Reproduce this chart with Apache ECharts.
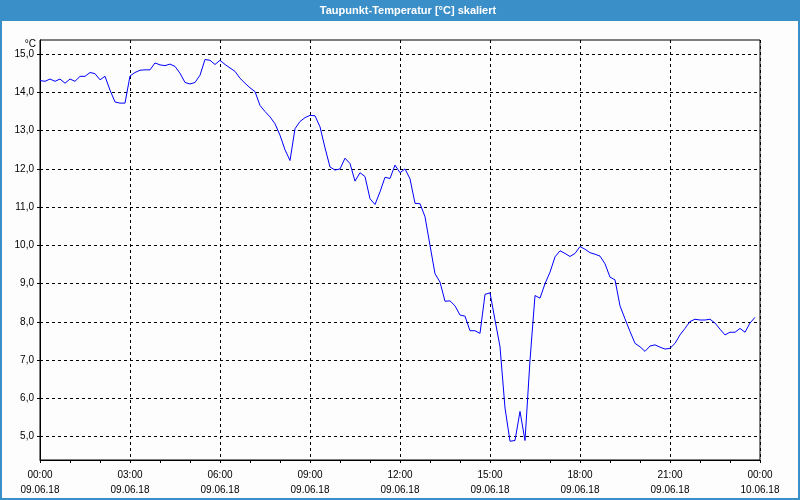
<!DOCTYPE html>
<html><head><meta charset="utf-8">
<script src="https://cdn.jsdelivr.net/npm/echarts@6/dist/echarts.min.js"></script>
<style>html,body{margin:0;padding:0;background:#fcfdfc}#c{width:800px;height:500px}</style>
</head><body><div id="c"></div>
<script>
// Dew point readings every 10 minutes, 09.06.18 00:00 .. 23:50
const stepMinutes = 10;
const dewPoint = [
  14.31, 14.29, 14.35, 14.29, 14.35, 14.24, 14.35, 14.29, 14.42, 14.42,
  14.52, 14.49, 14.33, 14.42, 14.06, 13.75, 13.72, 13.72, 14.43, 14.52,
  14.58, 14.59, 14.59, 14.77, 14.72, 14.70, 14.74, 14.68, 14.50, 14.26,
  14.22, 14.26, 14.45, 14.86, 14.84, 14.73, 14.84, 14.73, 14.64, 14.55,
  14.37, 14.24, 14.12, 14.02, 13.66, 13.50, 13.36, 13.18, 12.88, 12.50,
  12.22, 13.05, 13.24, 13.34, 13.40, 13.39, 13.10, 12.55, 12.05, 11.97,
  12.00, 12.28, 12.14, 11.68, 11.90, 11.80, 11.22, 11.07, 11.40, 11.78,
  11.75, 12.10, 11.90, 12.00, 11.74, 11.10, 11.09, 10.75, 10.00, 9.26,
  9.04, 8.54, 8.55, 8.42, 8.18, 8.15, 7.77, 7.77, 7.70, 8.72,
  8.76, 8.05, 7.35, 5.75, 4.88, 4.90, 5.66, 4.90, 7.00, 8.69,
  8.62, 9.00, 9.30, 9.70, 9.86, 9.79, 9.71, 9.79, 9.97, 9.90,
  9.81, 9.77, 9.72, 9.52, 9.17, 9.10, 8.42, 8.08, 7.75, 7.44,
  7.35, 7.23, 7.37, 7.40, 7.34, 7.29, 7.31, 7.44, 7.66, 7.83,
  8.01, 8.07, 8.05, 8.05, 8.07, 7.97, 7.81, 7.66, 7.73, 7.73,
  7.83, 7.73, 7.97, 8.12
];
const yTickValues = [5, 6, 7, 8, 9, 10, 11, 12, 13, 14, 15];
const xTickHours = [0, 3, 6, 9, 12, 15, 18, 21, 24];
const xTimeLabels = ['00:00', '03:00', '06:00', '09:00', '12:00', '15:00', '18:00', '21:00', '00:00'];
const xDateLabels = ['09.06.18', '09.06.18', '09.06.18', '09.06.18', '09.06.18', '09.06.18', '09.06.18', '09.06.18', '10.06.18'];
const titleText = 'Taupunkt-Temperatur [°C] skaliert';
const yUnit = '°C';

const seriesData = dewPoint.map((v, i) => [i * stepMinutes / 60, v]);
const FONT = 'Liberation Sans';
const BLUE = '#3b8fc8';

const chart = echarts.init(document.getElementById('c'), null, {renderer: 'canvas'});
chart.setOption({
  animation: false,
  backgroundColor: '#fcfdfc',
  graphic: [
    {type: 'rect', shape: {x: 0, y: 0, width: 800, height: 21}, style: {fill: BLUE}, z: 0},
    {type: 'rect', shape: {x: 1, y: 1, width: 798, height: 498}, style: {fill: null, stroke: BLUE, lineWidth: 2}, z: 0},
    {type: 'text', x: 408, y: 11, style: {text: titleText, fill: '#ffffff', font: 'bold 11px "Liberation Sans"', textAlign: 'center', textVerticalAlign: 'middle'}, z: 1}
  ],
  grid: {left: 40, right: 40, top: 40, bottom: 40, show: true, borderColor: '#000', borderWidth: 1, backgroundColor: 'transparent'},
  xAxis: {
    type: 'value', min: 0, max: 24, interval: 3,
    axisLine: {show: true, onZero: false, lineStyle: {color: '#000', width: 1}},
    axisTick: {show: true, length: 3, lineStyle: {color: '#000'}},
    minorTick: {show: true, splitNumber: 3, length: 3, lineStyle: {color: '#000'}},
    splitLine: {show: true, lineStyle: {color: '#000', type: [3, 3], width: 1}},
    axisLabel: {
      color: '#000', fontFamily: FONT, fontSize: 10, lineHeight: 15, margin: 8,
      formatter: v => { const k = xTickHours.indexOf(v); return k < 0 ? '' : xTimeLabels[k] + '\n' + xDateLabels[k]; }
    }
  },
  yAxis: {
    type: 'value', min: 4.39, max: 15.37, splitNumber: 10,
    name: yUnit, nameLocation: 'end', nameGap: -4,
    nameTextStyle: {color: '#000', fontFamily: FONT, fontSize: 10, align: 'right', verticalAlign: 'middle', padding: [0, 4, 0, 0]},
    axisLine: {show: true, lineStyle: {color: '#000', width: 1}},
    axisTick: {show: true, length: 5, customValues: yTickValues, lineStyle: {color: '#000', type: [3, 2]}},
    splitLine: {show: true, lineStyle: {color: '#000', type: [3, 3], width: 1}},
    axisLabel: {
      color: '#000', fontFamily: FONT, fontSize: 10, margin: 6, customValues: yTickValues,
      formatter: v => v.toFixed(1).replace('.', ',')
    }
  },
  series: [{
    type: 'line', data: seriesData, showSymbol: false, symbol: 'none',
    lineStyle: {color: '#0000ff', width: 1}, itemStyle: {color: '#0000ff'}
  }]
});
</script></body></html>
